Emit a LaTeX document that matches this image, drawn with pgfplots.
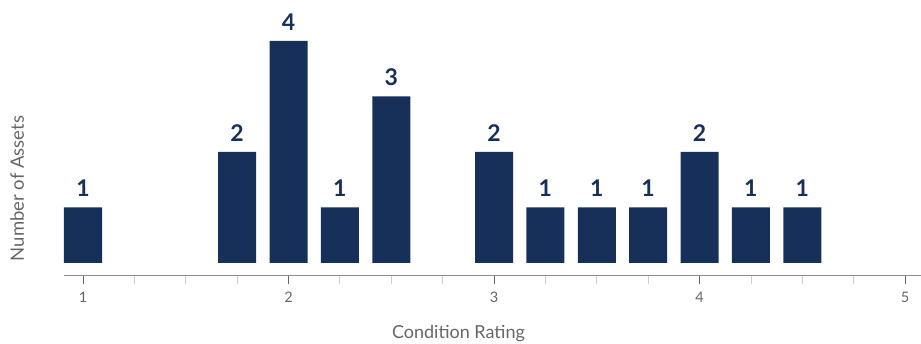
\documentclass[border=0pt]{standalone}
\usepackage{pgfplots}
\pgfplotsset{compat=1.18}
\usepackage{fontspec}
\setmainfont{Lato}
\definecolor{barblue}{HTML}{16305A}
\definecolor{axisgray}{HTML}{8C8C8C}
\definecolor{labelgray}{HTML}{666666}
\definecolor{minorgray}{HTML}{CCCCCC}
\begin{document}
\begin{tikzpicture}
% fixed page frame around the plot area
\path[use as bounding box] (-64pt,-68.3pt) rectangle (857pt,275.7pt);
\begin{axis}[
  at={(0pt,0pt)}, anchor=south west,
  scale only axis, width=857pt, height=251.35pt,
  xmin=0.9075, xmax=5.0777, ymin=-0.23, ymax=4.299,
  /pgf/number format/assume math mode=true,
  axis x line=bottom, axis y line=left,
  x axis line style={-, draw=axisgray, line width=0.8pt},
  y axis line style={draw=none},
  xtick={1,2,3,4,5},
  minor xtick={1.25,1.5,1.75,2.25,2.5,2.75,3.25,3.5,3.75,4.25,4.5,4.75},
  xtick align=outside,
  major tick length=8pt, minor tick length=8pt,
  major tick style={draw=labelgray, line width=0.8pt},
  minor tick style={draw=minorgray, line width=0.8pt},
  ytick=\empty,
  xticklabel style={text=labelgray, font=\fontsize{14.5}{17}\selectfont, yshift=-5pt},
  xlabel={Condition Rating},
  xlabel style={at={(axis description cs:0.4603,-0.2479)}, anchor=base,
    text=labelgray, font=\fontsize{18}{21}\selectfont},
  ylabel={Number of Assets},
  ylabel style={at={(axis description cs:-0.0548,0.347)}, anchor=center,
    text=labelgray, font=\fontsize{18.5}{21}\selectfont},
  clip=false,
  nodes near coords,
  every node near coord/.append style={anchor=south, inner sep=0pt, yshift=10.5pt,
    text=barblue, font=\bfseries\fontsize{23}{26}\selectfont},
]
\addplot[ybar, bar width=0.185, fill=barblue, draw=none] coordinates {
  (1.00,1) (1.75,2) (2.00,4) (2.25,1) (2.50,3) (3.00,2)
  (3.25,1) (3.50,1) (3.75,1) (4.00,2) (4.25,1) (4.50,1)
};
\end{axis}
\end{tikzpicture}
\end{document}
